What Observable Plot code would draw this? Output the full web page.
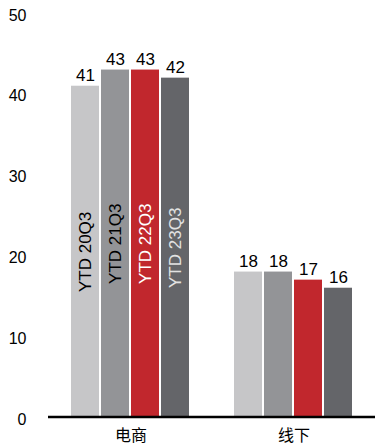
<!DOCTYPE html>
<html>
<head>
<meta charset="utf-8">
<script src="https://cdn.jsdelivr.net/npm/d3@7"></script>
<script src="https://cdn.jsdelivr.net/npm/@observablehq/plot@0.6"></script>
<style>
  html, body { margin: 0; padding: 0; background: #fff; }
</style>
</head>
<body>
<div id="chart"></div>
<script>
// Channels and periods
const categories = ["电商", "线下"];
const periods = ["YTD 20Q3", "YTD 21Q3", "YTD 22Q3", "YTD 23Q3"];
const ecommerceValues = [41, 43, 43, 42];
const offlineValues = [18, 18, 17, 16];
const yTicks = [0, 10, 20, 30, 40, 50];

const periodColors = ["#c6c6c8", "#939497", "#c1272d", "#646569"];
const periodTextColors = ["#000", "#000", "#fff", "#e2e2e2"];

const rows = [
  ...periods.map((p, i) => ({category: categories[0], period: p, value: ecommerceValues[i]})),
  ...periods.map((p, i) => ({category: categories[1], period: p, value: offlineValues[i]}))
];

const W = 375, H = 448, ML = 48, MR = 0;
const sans = "'Liberation Sans', Arial, sans-serif";

const chart = Plot.plot({
  width: W,
  height: H,
  marginLeft: ML,
  marginRight: MR,
  marginTop: 13,
  marginBottom: 31,
  style: {fontFamily: sans, fontSize: "16px", color: "#000", background: "#fff"},
  fx: {domain: categories, paddingInner: 0.2718, paddingOuter: 0.1347, label: null},
  x: {domain: periods, paddingInner: 0.056, paddingOuter: 0, axis: null},
  y: {domain: [0, 50], label: null},
  color: {domain: periods, range: periodColors},
  marks: [
    Plot.barY(rows, {fx: "category", x: "period", y: "value", fill: "period"}),
    Plot.text(rows, {
      fx: "category", x: "period", y: "value", text: d => String(d.value),
      lineAnchor: "bottom", dy: -5, fontSize: 17, fill: "#000", fontFamily: sans
    }),
    Plot.text(rows.filter(d => d.category === categories[0]), {
      fx: "category", x: "period", y: d => d.value / 2, text: "period",
      rotate: -90, fontSize: 17, fontFamily: sans,
      fill: d => periodTextColors[periods.indexOf(d.period)]
    }),
    // y labels hang off the first facet's left edge
    Plot.axisY({ticks: yTicks, tickSize: 0, tickPadding: 45, dy: 2, label: null, fontSize: 16, fontFamily: sans}),
    Plot.axisFx({anchor: "bottom", tickSize: 0, tickPadding: 12, label: null, fontSize: 16,
      fontFamily: "'Noto Sans CJK SC', sans-serif"})
  ]
});

// Baseline across the full plot width, placed with the y scale
const y0 = chart.scale("y").apply(0);
d3.select(chart).append("line")
  .attr("x1", ML).attr("x2", W - MR)
  .attr("y1", y0).attr("y2", y0)
  .attr("stroke", "#000").attr("stroke-width", 2.5);

document.getElementById("chart").appendChild(chart);
</script>
</body>
</html>
